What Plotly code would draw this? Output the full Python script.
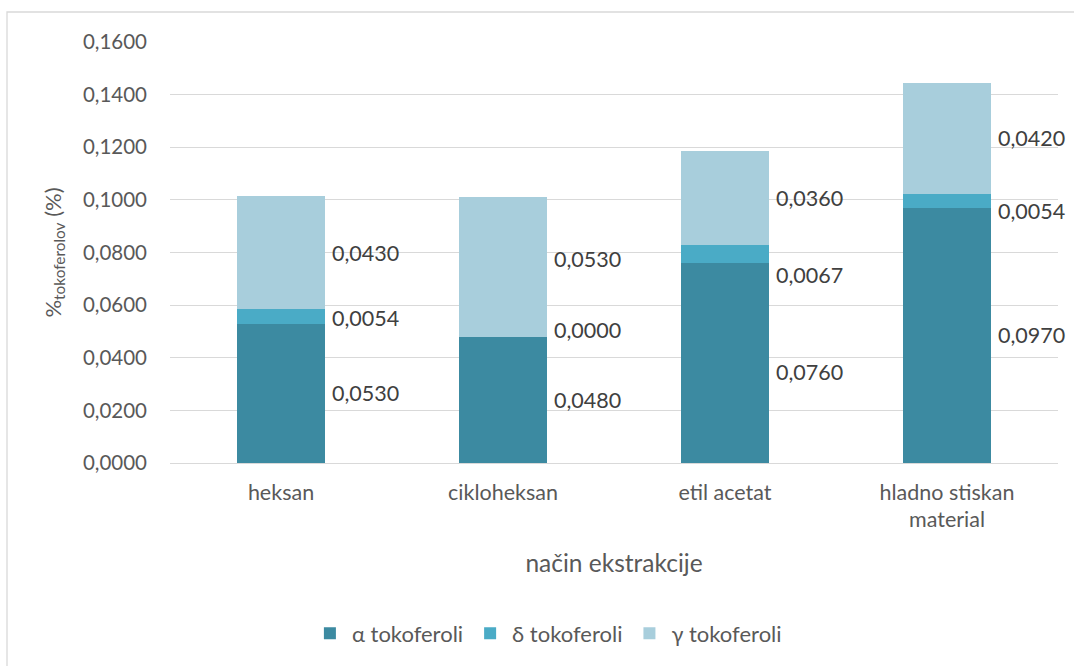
import plotly.graph_objects as go

# Extraction methods and tocopherol content (%)
categories = ["heksan", "cikloheksan", "etil acetat", "hladno stiskan<br>material"]
alpha = [0.0530, 0.0480, 0.0760, 0.0970]
delta = [0.0054, 0.0000, 0.0067, 0.0054]
gamma = [0.0430, 0.0530, 0.0360, 0.0420]

series_names = ["α tokoferoli", "δ tokoferoli", "γ tokoferoli"]
series_colors = ["#3c8aa1", "#4aabc6", "#a8cedc"]

# Vertical nudges (px) for labels that would otherwise collide
label_nudge = [
    [0, 0, -9, 0],
    [-2, 7, -21, -10],
    [0, 8, 0, 0],
]

tick_vals = [0, 0.02, 0.04, 0.06, 0.08, 0.10, 0.12, 0.14, 0.16]
tick_text = ["0,0000", "0,0200", "0,0400", "0,0600", "0,0800",
             "0,1000", "0,1200", "0,1400", "0,1600"]

FONT = "Lato, 'Open Sans', sans-serif"
GREY = "#595959"

x = list(range(len(categories)))
fig = go.Figure()
all_series = [alpha, delta, gamma]
for name, vals, col in zip(series_names, all_series, series_colors):
    fig.add_trace(go.Bar(
        x=x, y=vals, name=name, marker=dict(color=col, line=dict(width=0)),
        width=0.4, hoverinfo="skip",
    ))

def fmt(v):
    return f"{v:.4f}".replace(".", ",")

annotations = []
for i in x:
    base = 0.0
    for s, vals in enumerate(all_series):
        v = vals[i]
        annotations.append(dict(
            x=i + 0.2, y=base + v / 2, xref="x", yref="y",
            text=fmt(v), showarrow=False, xanchor="left", yanchor="middle",
            xshift=5, yshift=label_nudge[s][i],
            font=dict(family=FONT, size=21.5, color="#404040"),
        ))
        base += v

fig.update_layout(
    barmode="stack",
    width=1074, height=666,
    margin=dict(l=170, r=16, t=42, b=203),
    paper_bgcolor="white", plot_bgcolor="white",
    bargap=0.6,
    font=dict(family=FONT, size=21, color=GREY),
    xaxis=dict(
        tickmode="array", tickvals=x, ticktext=categories,
        range=[-0.5, 3.5], showgrid=False, zeroline=False,
        showline=False, ticks="", ticklabelstandoff=14,
        tickfont=dict(size=21.5, color=GREY),
        title=dict(text="način ekstrakcije", font=dict(size=24.5, color=GREY), standoff=23),
    ),
    yaxis=dict(
        range=[0, 0.16], tickmode="array", tickvals=tick_vals, ticktext=tick_text,
        showgrid=True, gridcolor="#d9d9d9", gridwidth=1.3,
        zeroline=True, zerolinecolor="#d9d9d9", zerolinewidth=1.3,
        ticks="", ticklabelstandoff=22, tickfont=dict(size=20.5, color=GREY),
        title=dict(text="%<sub>tokoferolov</sub> (%)", font=dict(size=22, color=GREY), standoff=15),
    ),
    legend=dict(
        orientation="h", x=0.425, xanchor="center", y=-0.405, yanchor="middle",
        font=dict(size=22, color=GREY), traceorder="normal",
        itemwidth=34, itemsizing="constant",
    ),
    annotations=annotations,
    shapes=[dict(
        type="rect", xref="paper", yref="paper",
        x0=(7 - 170) / 888, x1=(1090 - 170) / 888,
        y0=(463 - 700) / 421, y1=(463 - 12) / 421,
        line=dict(color="#d9d9d9", width=1.3), fillcolor="rgba(0,0,0,0)",
        layer="below",
    )],
)

fig.write_html("out.html")
